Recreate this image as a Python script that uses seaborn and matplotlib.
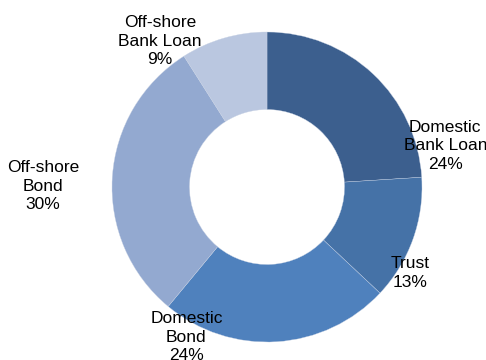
import matplotlib
matplotlib.use("Agg")
import matplotlib.pyplot as plt
import seaborn as sns

labels = ["Domestic\nBank Loan", "Trust", "Domestic\nBond", "Off-shore\nBond", "Off-shore\nBank Loan"]
shares = [24, 13, 24, 30, 9]
colors = ["#3C5F8E", "#4572A7", "#4F81BD", "#93A9D0", "#BAC7E0"]
# label centres in data units (radius = 1)
label_pos = [(1.15, 0.265), (0.925, -0.555), (-0.52, -0.97), (-1.445, 0.005), (-0.69, 0.94)]

sns.set_theme(style="white")
plt.rcParams["font.family"] = ["Liberation Sans", "DejaVu Sans"]

fig = plt.figure(figsize=(4.86, 3.6), dpi=100)
ax = fig.add_axes([112 / 486, 18 / 360, 310 / 486, 310 / 360])
wedges, _ = ax.pie(shares, colors=colors, startangle=90, counterclock=False,
                   radius=1.0, wedgeprops=dict(width=0.5, edgecolor="#c8d2e4", linewidth=0.25))
for lab, val, (x, y) in zip(labels, shares, label_pos):
    ax.text(x, y, "{0}\n{1}%".format(lab, val), ha="center", va="center",
            fontsize=12.5, linespacing=1.3, color="black", clip_on=False)
ax.set_xlim(-1, 1)
ax.set_ylim(-1, 1)
ax.set_aspect("equal")
ax.axis("off")
fig.savefig("out.png", dpi=100)
